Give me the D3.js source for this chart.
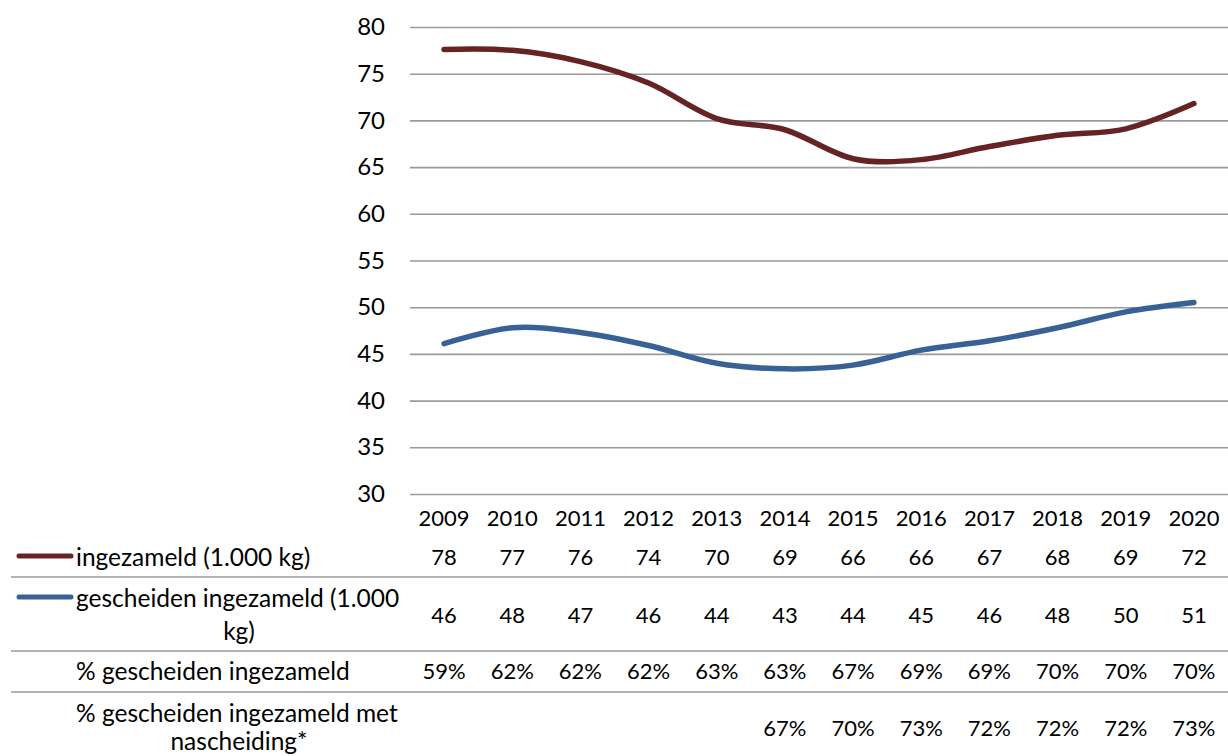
<!DOCTYPE html>
<html>
<head>
<meta charset="utf-8">
<script src="https://cdn.jsdelivr.net/npm/d3@7"></script>
<style>
  html, body { margin: 0; padding: 0; background: #fff; }
  svg { display: block; }
  text { font-family: Lato, "Open Sans", sans-serif; fill: #000; }
</style>
</head>
<body>
<svg id="chart" width="1228" height="756"></svg>
<script>
// ---- data ----
const years = ["2009","2010","2011","2012","2013","2014","2015","2016","2017","2018","2019","2020"];
const ingezameld = [77.6, 77.5, 76.3, 74.0, 70.2, 69.0, 65.9, 65.8, 67.2, 68.4, 69.1, 71.8];
const gescheiden = [46.1, 47.8, 47.3, 45.9, 44.0, 43.4, 43.8, 45.4, 46.4, 47.8, 49.5, 50.5];
const tableIngezameld = [78, 77, 76, 74, 70, 69, 66, 66, 67, 68, 69, 72];
const tableGescheiden = [46, 48, 47, 46, 44, 43, 44, 45, 46, 48, 50, 51];
const pctGescheiden = [59, 62, 62, 62, 63, 63, 67, 69, 69, 70, 70, 70];
const pctNascheiding = [null, null, null, null, null, 67, 70, 73, 72, 72, 72, 73];
const yTicks = [30, 35, 40, 45, 50, 55, 60, 65, 70, 75, 80];
const rowLabels = [
  ["ingezameld (1.000 kg)"],
  ["gescheiden ingezameld (1.000", "kg)"],
  ["% gescheiden ingezameld"],
  ["% gescheiden ingezameld met", "nascheiding*"]
];

const colorRed = "#662323";
const colorBlue = "#386195";
const gridColor = "#9a9a9a";

const svg = d3.select("#chart");

const x = d3.scaleBand().domain(years).range([410, 1228]).padding(0);
const cx = d => x(d) + x.bandwidth() / 2;
const y = d3.scaleLinear().domain([30, 80]).range([494, 27]);

// gridlines
const yAxis = d3.axisLeft(y).tickValues(yTicks).tickSize(-(1228 - 410)).tickPadding(25);
const gy = svg.append("g").attr("transform", "translate(410,0)").call(yAxis);
gy.select(".domain").remove();
gy.selectAll(".tick line").attr("stroke", gridColor).attr("stroke-width", 1.6);
gy.selectAll(".tick text").attr("font-size", 24).attr("font-family", "Lato").attr("fill", "#000");

// lines
const line = d3.line().x((d, i) => cx(years[i])).y(d => y(d)).curve(d3.curveCardinal.tension(0));
svg.append("path").datum(ingezameld).attr("d", line)
  .attr("fill", "none").attr("stroke", colorRed).attr("stroke-width", 5.5).attr("stroke-linecap", "round");
svg.append("path").datum(gescheiden).attr("d", line)
  .attr("fill", "none").attr("stroke", colorBlue).attr("stroke-width", 5.5).attr("stroke-linecap", "round");

// data table
const fs = 22;
const lfs = 24.5;
// year labels
svg.append("g").selectAll("text").data(years).join("text")
  .attr("x", d => cx(d)).attr("y", 517).attr("text-anchor", "middle")
  .attr("dominant-baseline", "central").attr("font-size", fs).text(d => d);

// row separators
[577, 651, 692].forEach(yy => {
  svg.append("line").attr("x1", 11).attr("x2", 1228).attr("y1", yy).attr("y2", yy)
    .attr("stroke", gridColor).attr("stroke-width", 1.6);
});

const rows = [
  { vals: tableIngezameld.map(String), cy: 556, labelY: [556], color: colorRed },
  { vals: tableGescheiden.map(String), cy: 614, labelY: [597, 630], color: colorBlue },
  { vals: pctGescheiden.map(v => v + "%"), cy: 670, labelY: [670] },
  { vals: pctNascheiding.map(v => v == null ? "" : v + "%"), cy: 727, labelY: [712, 740] }
];

rows.forEach((r, ri) => {
  svg.append("g").selectAll("text").data(r.vals).join("text")
    .attr("x", (d, i) => cx(years[i])).attr("y", r.cy).attr("text-anchor", "middle")
    .attr("dominant-baseline", "central").attr("font-size", fs).text(d => d);
  rowLabels[ri].forEach((t, li) => {
    svg.append("text")
      .attr("x", li === 0 ? 76 : 239).attr("y", r.labelY[li])
      .attr("text-anchor", li === 0 ? "start" : "middle")
      .attr("dominant-baseline", "central").attr("font-size", lfs).text(t);
  });
  if (r.color) {
    svg.append("line").attr("x1", 19).attr("x2", 71).attr("y1", r.labelY[0]).attr("y2", r.labelY[0])
      .attr("stroke", r.color).attr("stroke-width", 5).attr("stroke-linecap", "round");
  }
});
</script>
</body>
</html>
